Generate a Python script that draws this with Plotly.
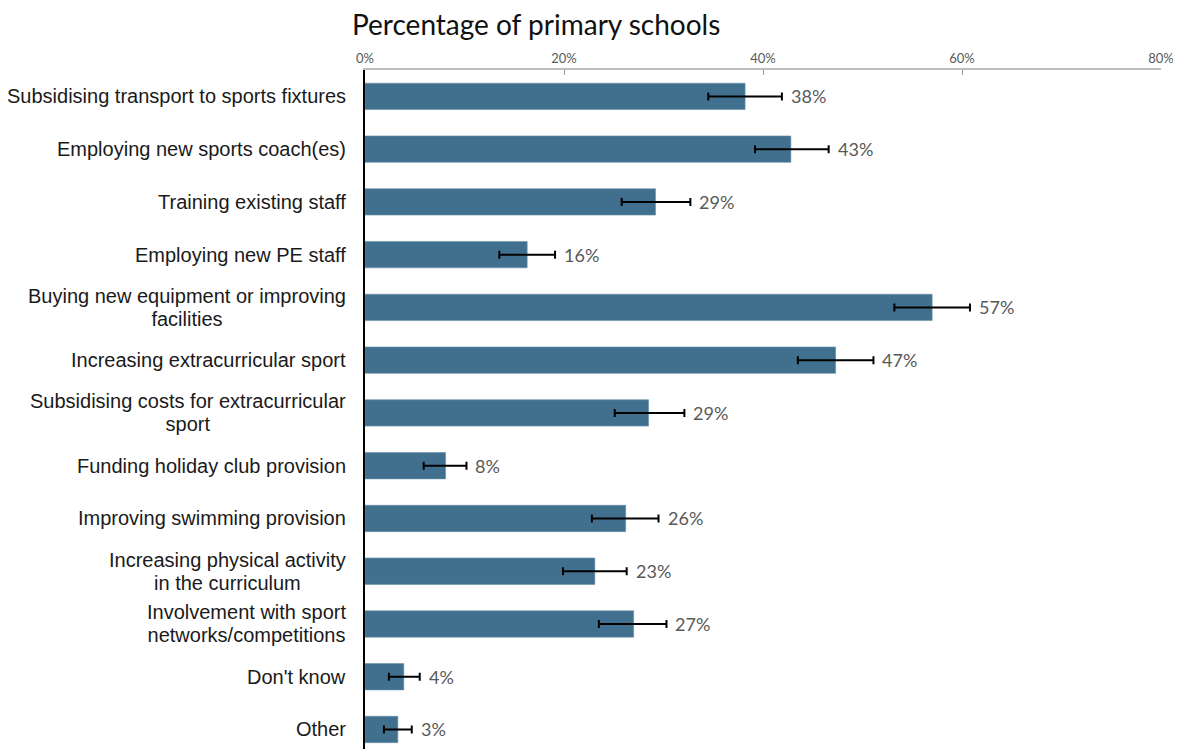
import plotly.graph_objects as go

categories = [
    "Subsidising transport to sports fixtures",
    "Employing new sports coach(es)",
    "Training existing staff",
    "Employing new PE staff",
    "Buying new equipment or improving<br>facilities",
    "Increasing extracurricular sport",
    "Subsidising costs for extracurricular<br>sport",
    "Funding holiday club provision",
    "Improving swimming provision",
    "Increasing physical activity<br>in the curriculum",
    "Involvement with sport<br>networks/competitions",
    "Don't know",
    "Other",
]
values = [38.2, 42.8, 29.2, 16.3, 57.0, 47.3, 28.5, 8.1, 26.2, 23.1, 27.0, 3.9, 3.3]
lower = [34.5, 39.2, 25.8, 13.5, 53.2, 43.5, 25.1, 5.9, 22.8, 19.9, 23.5, 2.4, 1.9]
upper = [41.9, 46.6, 32.7, 19.1, 60.8, 51.1, 32.1, 10.2, 29.5, 26.3, 30.3, 5.5, 4.7]
labels = ["38%", "43%", "29%", "16%", "57%", "47%", "29%", "8%", "26%", "23%", "27%", "4%", "3%"]
tick_vals = [0, 20, 40, 60, 80]
tick_text = ["0%", "20%", "40%", "60%", "80%"]

ypos = list(range(len(categories)))

fig = go.Figure()
fig.add_trace(go.Bar(
    x=values, y=ypos, orientation="h",
    marker=dict(color="#41708F", line=dict(color="#6a90aa", width=0.6)),
    width=0.5,
    error_x=dict(type="data", symmetric=False,
                 array=[u - v for u, v in zip(upper, values)],
                 arrayminus=[v - l for v, l in zip(values, lower)],
                 color="black", thickness=2, width=4),
    hoverinfo="skip",
    cliponaxis=False,
))

for i, (u, t) in enumerate(zip(upper, labels)):
    fig.add_annotation(
        x=u, xref="x", y=i, yref="y", text=t, showarrow=False,
        xanchor="left", yanchor="middle", xshift=7,
        font=dict(family="Lato", size=18, color="#595959"),
    )

for i, c in enumerate(categories):
    txt = "<br>".join(f"<span style='font-size:20px'>{p}</span>" for p in c.split("<br>"))
    fig.add_annotation(
        x=0, xref="paper", y=i, yref="y", text=txt, showarrow=False,
        xanchor="right", yanchor="middle", xshift=-17, align="center",
        font=dict(family="Liberation Sans", size=18, color="#1a1a1a"),
    )

fig.update_layout(
    width=1181, height=749,
    margin=dict(l=357, r=28, t=62, b=8, autoexpand=False),
    paper_bgcolor="white", plot_bgcolor="white",
    showlegend=False,
    title=dict(text="Percentage of primary schools", x=344/1181, xanchor="left",
               y=1 - 17/749, yanchor="middle", xref="container",
               font=dict(family="Lato", size=28, color="#111111")),
    xaxis=dict(side="top", range=[0, 80], tickvals=tick_vals, ticktext=tick_text,
               showgrid=False, zeroline=False, automargin=False,
               showline=True, linecolor="#bfbfbf", linewidth=1.5,
               ticks="inside", ticklen=5, tickcolor="#999999",
               tickfont=dict(family="Lato", size=13, color="#595959")),
    yaxis=dict(range=[12.37, -0.5], showticklabels=False, showgrid=False,
               zeroline=False, showline=True, linecolor="black", linewidth=1.5,
               ticks="", automargin=False),
)

fig.write_html("out.html")
